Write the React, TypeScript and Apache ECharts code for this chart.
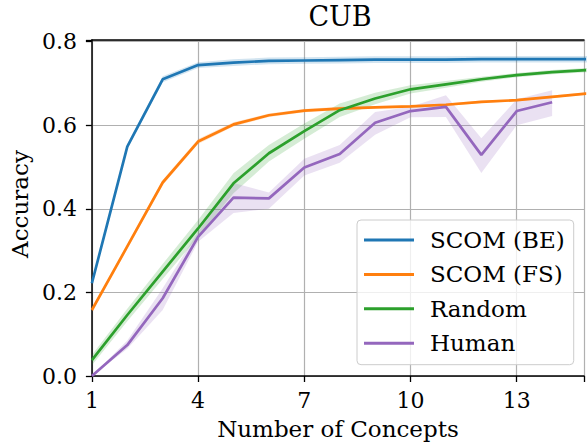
import React, { useEffect, useRef } from "react";
import * as echarts from "echarts";

const steps = [1, 2, 3, 4, 5, 6, 7, 8, 9, 10, 11, 12, 13, 14, 15];
const beMean = [0.222, 0.549, 0.71, 0.744, 0.75, 0.754, 0.755, 0.756, 0.757, 0.757, 0.757, 0.758, 0.758, 0.758, 0.758];
const beSd = [0.004, 0.006, 0.007, 0.007, 0.008, 0.008, 0.008, 0.008, 0.008, 0.008, 0.008, 0.008, 0.008, 0.008, 0.008];
const fsMean = [0.158, 0.31, 0.463, 0.561, 0.602, 0.624, 0.635, 0.64, 0.643, 0.645, 0.649, 0.656, 0.66, 0.668, 0.676];
const fsSd = [0.005, 0.006, 0.006, 0.006, 0.005, 0.004, 0.004, 0.004, 0.003, 0.003, 0.003, 0.003, 0.003, 0.003, 0.003];
const randMean = [0.038, 0.146, 0.25, 0.353, 0.461, 0.533, 0.586, 0.636, 0.664, 0.686, 0.698, 0.71, 0.72, 0.727, 0.732];
const randSd = [0.012, 0.015, 0.018, 0.02, 0.024, 0.02, 0.018, 0.016, 0.014, 0.01, 0.008, 0.006, 0.005, 0.005, 0.005];
const humanMean = [0.0, 0.074, 0.186, 0.333, 0.427, 0.425, 0.499, 0.531, 0.606, 0.634, 0.644, 0.529, 0.634, 0.655];
const humanLow = [0.0, 0.065, 0.158, 0.321, 0.39, 0.4, 0.48, 0.51, 0.577, 0.619, 0.62, 0.486, 0.6, 0.622];
const humanHigh = [0.0, 0.085, 0.21, 0.345, 0.462, 0.439, 0.52, 0.553, 0.632, 0.644, 0.672, 0.569, 0.662, 0.684];
const xTicks = [1, 4, 7, 10, 13];
const yTicks = [0, 0.2, 0.4, 0.6, 0.8];

const FONT = "DejaVu Serif";
const TICK_FS = 22;
const NAME_FS = 23;

type Def = { name: string; color: string; mean: number[]; low: number[]; high: number[] };

export default function App() {
  const ref = useRef<HTMLDivElement>(null);
  useEffect(() => {
    if (!ref.current) return;
    const chart = echarts.init(ref.current, undefined, { renderer: "svg" });
    const defs: Def[] = [
      { name: "SCOM (BE)", color: "#1f77b4", mean: beMean, low: beMean.map((m, i) => m - beSd[i]), high: beMean.map((m, i) => m + beSd[i]) },
      { name: "SCOM (FS)", color: "#ff7f0e", mean: fsMean, low: fsMean.map((m, i) => m - fsSd[i]), high: fsMean.map((m, i) => m + fsSd[i]) },
      { name: "Random", color: "#2ca02c", mean: randMean, low: randMean.map((m, i) => m - randSd[i]), high: randMean.map((m, i) => m + randSd[i]) },
      { name: "Human", color: "#9467bd", mean: humanMean, low: humanLow, high: humanHigh },
    ];
    const series: any[] = [];
    defs.forEach((d, k) => {
      series.push({
        type: "custom",
        name: "band" + k,
        silent: true,
        z: 1,
        data: [[steps[0], d.mean[0]]],
        encode: { x: 0, y: 1 },
        renderItem: (_params: any, api: any) => {
          const upper = d.high.map((v, i) => api.coord([steps[i], v]));
          const lower = d.low.map((v, i) => api.coord([steps[i], v])).reverse();
          return {
            type: "polygon",
            shape: { points: upper.concat(lower) },
            style: { fill: d.color, opacity: 0.2 },
          };
        },
      });
    });
    defs.forEach((d) => {
      series.push({
        type: "line",
        name: d.name,
        symbol: "none",
        lineStyle: { color: d.color, width: 2.7 },
        itemStyle: { color: d.color },
        data: d.mean.map((v, i) => [steps[i], v]),
        z: 3,
      });
    });

    chart.setOption({
      animation: false,
      backgroundColor: "#fff",
      title: {
        text: "CUB",
        left: 340,
        top: 3,
        padding: 0,
        textAlign: "center",
        textStyle: { fontFamily: FONT, fontSize: 27, fontWeight: "normal", color: "#000" },
      },
      legend: {
        data: defs.map((d) => ({ name: d.name, icon: "rect" })),
        orient: "vertical",
        left: 357,
        top: 220,
        itemWidth: 50,
        itemHeight: 3,
        itemGap: 11.4,
        padding: [8.5, 9, 10, 7],
        backgroundColor: "rgba(255,255,255,0.8)",
        borderColor: "#cccccc",
        borderWidth: 1,
        borderRadius: 4,
        textStyle: { fontFamily: FONT, fontSize: 23, color: "#000", lineHeight: 23, padding: [0, 0, 0, 11] },
      },
      grid: { left: 89, top: 40, right: 0, bottom: 71 },
      xAxis: [
        {
          type: "value",
          min: 1,
          max: 14.9,
          interval: 3,
          name: "Number of Concepts",
          nameLocation: "middle",
          nameGap: 41,
          nameTextStyle: { fontFamily: FONT, fontSize: NAME_FS, color: "#000" },
          axisLine: { show: true, onZero: false, lineStyle: { color: "#000", width: 1.5 } },
          axisTick: { show: true, length: 6, lineStyle: { color: "#000", width: 1.3 } },
          axisLabel: {
            margin: 13,
            fontFamily: FONT,
            fontSize: TICK_FS,
            color: "#000",
            formatter: (v: number) => (xTicks.includes(Math.round(v * 1000) / 1000) ? String(v) : ""),
          },
          splitLine: { show: true, lineStyle: { color: "#b0b0b0", width: 1.2 } },
        },
        {
          type: "value",
          position: "top",
          min: 1,
          max: 14.9,
          axisLine: { show: true, onZero: false, lineStyle: { color: "#000", width: 1.5 } },
          axisTick: { show: false },
          axisLabel: { show: false },
          splitLine: { show: false },
        },
      ],
      yAxis: {
        type: "value",
        min: 0,
        max: 0.804,
        interval: 0.2,
        name: "Accuracy",
        nameLocation: "middle",
        nameGap: 54,
        nameTextStyle: { fontFamily: FONT, fontSize: NAME_FS, color: "#000", padding: [0, 0, 0, 8] },
        axisLine: { show: true, onZero: false, lineStyle: { color: "#000", width: 1.5 } },
        axisTick: { show: true, length: 6, lineStyle: { color: "#000", width: 1.3 } },
        axisLabel: {
          margin: 15,
          fontFamily: FONT,
          fontSize: TICK_FS,
          color: "#000",
          formatter: (v: number) => {
            const r = Math.round(v * 1000) / 1000;
            return yTicks.some((t) => Math.abs(t - r) < 1e-6) ? r.toFixed(1) : "";
          },
        },
        splitLine: { show: true, lineStyle: { color: "#b0b0b0", width: 1.2 } },
      },
      series,
    });
    return () => chart.dispose();
  }, []);
  return <div ref={ref} style={{ position: "fixed", left: 0, top: 0, width: 587, height: 447 }} />;
}
